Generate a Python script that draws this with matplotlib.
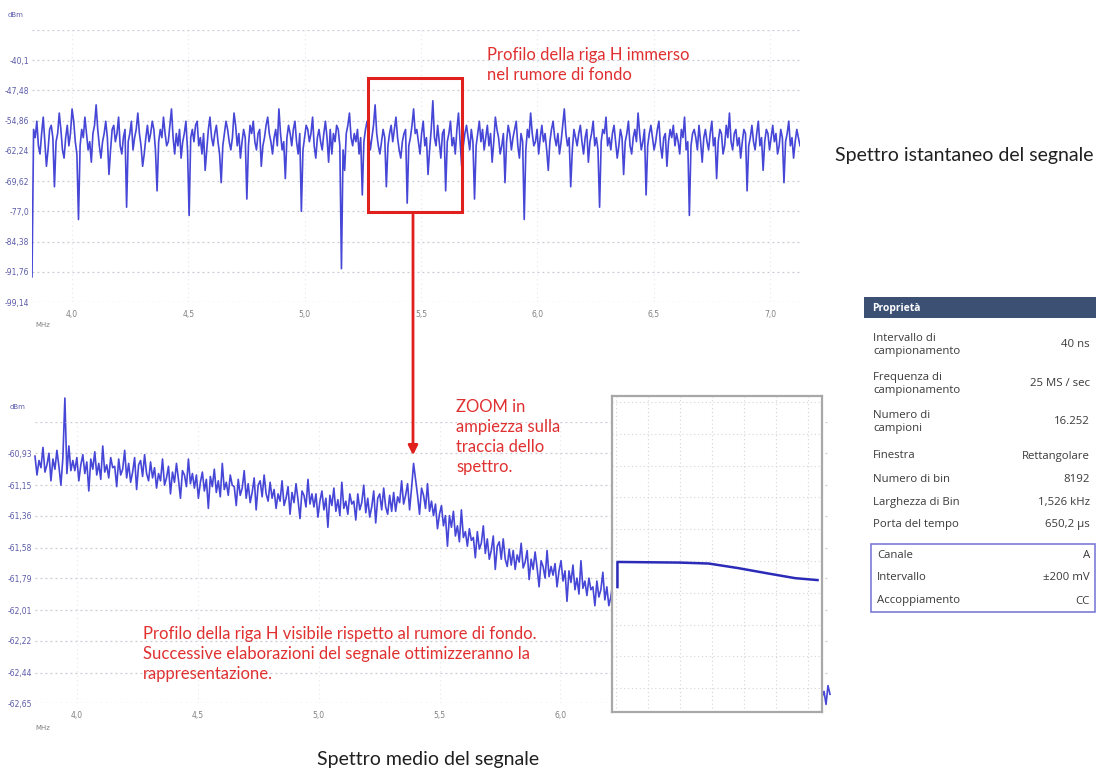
import numpy as np
import matplotlib
matplotlib.use('Agg')
import matplotlib.pyplot as plt
from matplotlib.patches import Rectangle, FancyArrowPatch

# ---------------- data ----------------
top_freq_range = (3.828, 7.128)   # MHz
top_values = [
    -93, -57, -59, -55, -61, -63, -58, -54, -60, -66, -62, -57, -56, -59, -71, -60, -58, -53, -57, -62,
    -64, -59, -56, -61, -58, -52, -55, -60, -63, -79, -61, -57, -59, -54, -58, -62, -60, -65, -58, -56,
    -51, -57, -61, -64, -60, -58, -55, -59, -68, -62, -57, -56, -60, -58, -54, -61, -63, -59, -57, -76,
    -60, -58, -55, -62, -59, -57, -53, -58, -61, -66, -63, -59, -56, -60, -58, -55, -57, -62, -72, -60,
    -57, -59, -54, -58, -61, -60, -56, -52, -59, -63, -58, -61, -57, -64, -60, -58, -55, -62, -78, -59,
    -57, -60, -56, -55, -61, -59, -63, -58, -67, -62, -57, -54, -59, -61, -58, -56, -60, -63, -70, -61,
    -58, -55, -57, -60, -62, -59, -53, -56, -61, -58, -64, -60, -57, -59, -74, -61, -56, -58, -55, -60,
    -62, -58, -57, -66, -61, -59, -56, -54, -58, -60, -63, -59, -57, -61, -52, -58, -62, -60, -69, -59,
    -56, -58, -61, -57, -55, -60, -63, -58, -77, -62, -59, -56, -57, -60, -58, -54, -61, -64, -59, -57,
    -60, -62, -58, -55, -59, -65, -57, -63, -58, -60, -56, -57, -61, -91, -62, -67, -58, -56, -53, -59,
    -61, -58, -60, -57, -63, -59, -73, -60, -57, -55, -58, -62, -59, -56, -51, -58, -61, -63, -60, -57,
    -59, -71, -61, -58, -56, -60, -57, -54, -59, -62, -64, -60, -58, -57, -75, -61, -59, -56, -52, -58,
    -57, -60, -63, -58, -55, -61, -59, -68, -62, -57, -50, -59, -61, -56, -60, -64, -58, -57, -72, -60,
    -58, -55, -61, -59, -63, -57, -53, -60, -66, -61, -58, -56, -59, -62, -57, -60, -74, -61, -58, -55,
    -60, -57, -62, -59, -56, -61, -58, -65, -60, -54, -57, -59, -63, -61, -58, -70, -60, -56, -58, -62,
    -59, -57, -55, -61, -64, -58, -60, -79, -62, -57, -59, -53, -58, -61, -60, -57, -63, -59, -56, -60,
    -58, -62, -67, -60, -57, -55, -59, -61, -58, -63, -60, -56, -52, -58, -61, -59, -71, -62, -57, -59,
    -61, -58, -56, -60, -63, -59, -57, -65, -60, -58, -55, -61, -59, -62, -76, -60, -57, -58, -54, -61,
    -59, -62, -58, -56, -60, -64, -61, -57, -59, -68, -60, -58, -55, -61, -63, -59, -57, -60, -53, -58,
    -62, -60, -57, -73, -61, -58, -56, -59, -62, -60, -57, -55, -61, -64, -59, -58, -66, -60, -57, -59,
    -56, -61, -58, -60, -63, -57, -59, -54, -62, -60, -78, -61, -58, -57, -59, -62, -56, -60, -65, -59,
    -57, -60, -62, -58, -55, -61, -59, -69, -60, -57, -58, -63, -61, -56, -59, -53, -60, -62, -58, -57,
    -61, -59, -64, -60, -57, -58, -72, -61, -59, -56, -60, -62, -58, -55, -61, -59, -67, -60, -57, -58,
    -62, -59, -56, -60, -58, -63, -61, -57, -59, -70, -60, -58, -55, -61, -59, -64, -60, -57, -59, -61,
]
top_yticks = [-40.1, -47.48, -54.86, -62.24, -69.62, -77.0, -84.38, -91.76, -99.14]
top_ylabels = ['-40,1', '-47,48', '-54,86', '-62,24', '-69,62', '-77,0', '-84,38', '-91,76', '-99,14']
top_ylim = (-99.14, -32.72)
top_xticks = [4.0, 4.5, 5.0, 5.5, 6.0, 6.5, 7.0]
top_xlabels = ['4,0', '4,5', '5,0', '5,5', '6,0', '6,5', '7,0']

bot_freq_range = (3.826, 7.116)   # MHz
bot_values = [
    -60.95, -61.08, -60.98, -61.03, -60.89, -61.06, -61.01, -60.93, -61.12, -60.97, -61.04, -60.91, -61.02, -61.15, -60.96, -60.55, -61.07, -60.88, -61.05, -60.98,
    -61.05, -60.96, -61.12, -61.01, -60.94, -61.07, -60.99, -61.19, -60.97, -61.04, -60.92, -61.08, -61.00, -61.11, -60.88, -61.06, -61.01, -61.10, -60.96, -61.03,
    -61.02, -61.16, -60.97, -61.08, -61.04, -60.91, -61.10, -61.00, -61.13, -61.06, -60.96, -61.18, -61.01, -60.98, -61.09, -60.94, -61.07, -61.12, -60.99, -61.10,
    -61.03, -61.17, -61.07, -61.12, -60.97, -61.15, -61.10, -61.02, -61.21, -61.06, -61.13, -61.00, -61.11, -61.24, -61.05, -61.08, -61.16, -60.97, -61.14, -61.07,
    -61.17, -61.08, -61.24, -61.13, -61.06, -61.19, -61.11, -61.31, -61.09, -61.16, -61.04, -61.20, -61.12, -61.23, -61.00, -61.18, -61.13, -61.22, -61.08, -61.15,
    -61.16, -61.29, -61.11, -61.22, -61.17, -61.05, -61.24, -61.14, -61.27, -61.20, -61.10, -61.32, -61.15, -61.12, -61.23, -61.08, -61.21, -61.26, -61.13, -61.24,
    -61.18, -61.31, -61.21, -61.26, -61.12, -61.29, -61.24, -61.16, -61.35, -61.20, -61.27, -61.14, -61.25, -61.38, -61.19, -61.22, -61.30, -61.11, -61.28, -61.21,
    -61.30, -61.21, -61.37, -61.26, -61.19, -61.32, -61.24, -61.44, -61.22, -61.29, -61.17, -61.33, -61.25, -61.36, -61.13, -61.31, -61.26, -61.35, -61.21, -61.28,
    -61.26, -61.39, -61.21, -61.32, -61.27, -61.15, -61.34, -61.24, -61.37, -61.30, -61.19, -61.41, -61.24, -61.21, -61.32, -61.17, -61.30, -61.35, -61.22, -61.33,
    -61.20, -61.33, -61.23, -61.27, -61.12, -61.28, -61.22, -61.14, -61.32, -61.17, -61.00, -61.11, -61.22, -61.35, -61.17, -61.22, -61.31, -61.14, -61.33, -61.26,
    -61.36, -61.28, -61.45, -61.35, -61.29, -61.43, -61.36, -61.57, -61.36, -61.44, -61.33, -61.50, -61.43, -61.54, -61.32, -61.51, -61.47, -61.57, -61.45, -61.53,
    -61.51, -61.65, -61.47, -61.59, -61.55, -61.43, -61.62, -61.52, -61.66, -61.60, -61.50, -61.73, -61.57, -61.54, -61.66, -61.52, -61.66, -61.71, -61.59, -61.70,
    -61.60, -61.73, -61.63, -61.68, -61.55, -61.72, -61.68, -61.60, -61.80, -61.66, -61.73, -61.61, -61.72, -61.85, -61.67, -61.71, -61.79, -61.60, -61.78, -61.71,
    -61.77, -61.69, -61.85, -61.74, -61.67, -61.81, -61.74, -61.95, -61.74, -61.82, -61.70, -61.87, -61.79, -61.90, -61.67, -61.86, -61.81, -61.91, -61.79, -61.87,
    -61.85, -61.98, -61.81, -61.92, -61.87, -61.75, -61.94, -61.85, -61.98, -61.92, -61.82, -62.05, -61.90, -61.88, -61.99, -61.85, -61.98, -62.03, -61.90, -62.01,
    -61.91, -62.05, -61.95, -62.00, -61.87, -62.03, -61.99, -61.91, -62.11, -61.97, -62.05, -61.93, -62.04, -62.17, -61.99, -62.03, -62.11, -61.92, -62.09, -62.03,
    -62.09, -62.00, -62.17, -62.06, -61.99, -62.13, -62.06, -62.27, -62.06, -62.14, -62.02, -62.19, -62.11, -62.22, -61.99, -62.18, -62.13, -62.23, -62.10, -62.16,
    -62.14, -62.28, -62.10, -62.22, -62.18, -62.06, -62.26, -62.17, -62.31, -62.25, -62.15, -62.38, -62.22, -62.19, -62.31, -62.17, -62.31, -62.37, -62.24, -62.36,
    -62.24, -62.38, -62.28, -62.34, -62.21, -62.39, -62.35, -62.28, -62.48, -62.34, -62.42, -62.30, -62.42, -62.56, -62.38, -62.42, -62.51, -62.33, -62.51, -62.45,
    -62.46, -62.38, -62.55, -62.45, -62.38, -62.52, -62.45, -62.66, -62.46, -62.54, -62.43, -62.60, -62.53, -62.65, -62.42, -62.61, -62.57, -62.66, -62.53, -62.59,
]
bot_yticks = [-60.93, -61.15, -61.36, -61.58, -61.79, -62.01, -62.22, -62.44, -62.65]
bot_ylabels = ['-60,93', '-61,15', '-61,36', '-61,58', '-61,79', '-62,01', '-62,22', '-62,44', '-62,65']
bot_ylim = (-62.65, -60.715)
bot_xticks = [4.0, 4.5, 5.0, 5.5, 6.0]
bot_xlabels = ['4,0', '4,5', '5,0', '5,5', '6,0']

inset_x = [0.05, 0.05, 1.0, 2.0, 2.9, 3.8, 4.8, 5.6, 6.3]
inset_y = [3.18, 3.97, 3.96, 3.95, 3.92, 3.78, 3.60, 3.46, 3.40]

prop_rows = [
    ('Intervallo di\ncampionamento', '40 ns'),
    ('Frequenza di\ncampionamento', '25 MS / sec'),
    ('Numero di\ncampioni', '16.252'),
    ('Finestra', 'Rettangolare'),
    ('Numero di bin', '8192'),
    ('Larghezza di Bin', '1,526 kHz'),
    ('Porta del tempo', '650,2 µs'),
]
channel_rows = [('Canale', 'A'), ('Intervallo', '±200 mV'), ('Accoppiamento', 'CC')]

# ---------------- figure ----------------
W, H = 1103, 773
fig = plt.figure(figsize=(W / 100, H / 100), dpi=100)
fig.patch.set_facecolor('white')

def fx(px):
    return px / W

def fy(py):
    return 1 - py / H

def ax_at(l, t, r, b, **kw):
    return fig.add_axes([l / W, 1 - b / H, (r - l) / W, (b - t) / H], **kw)

TRACE = '#2626d0'
YLAB = '#5b5ba8'
XLAB = '#808080'
GRID = '#c9c9d6'
RED = '#e0201c'
ANN = '#e03030'

def style_spectrum(ax, xlim, ylim, yticks, ylabels, xticks, xlabels):
    ax.set_xlim(*xlim)
    ax.set_ylim(*ylim)
    for s in ax.spines.values():
        s.set_visible(False)
    ax.set_yticks(yticks)
    ax.set_yticklabels(ylabels, fontsize=5.5, color=YLAB, family='DejaVu Sans')
    ax.set_xticks(xticks)
    ax.set_xticklabels(xlabels, fontsize=5.5, color=XLAB, family='DejaVu Sans')
    ax.tick_params(length=0, pad=2)
    ax.tick_params(axis='x', pad=6)
    ax.grid(True, axis='y', color=GRID, linestyle=(0, (1.5, 2.5)), linewidth=0.9)
    ax.grid(True, axis='x', color='#e6e6ee', linestyle=(0, (1, 3)), linewidth=0.8)
    ax.axhline(ylim[1], color=GRID, linestyle=(0, (1.5, 2.5)), linewidth=0.9)
    ax.set_facecolor('none')

# top spectrum
ax1 = ax_at(32, 30, 800, 302)
top_freq = np.linspace(top_freq_range[0], top_freq_range[1], len(top_values))
ax1.plot(top_freq, top_values, color=TRACE, linewidth=1.2, alpha=0.85)
style_spectrum(ax1, top_freq_range, top_ylim, top_yticks, top_ylabels, top_xticks, top_xlabels)
ax1.add_patch(Rectangle((5.272, -77.17), 0.404, 32.73, fill=False, edgecolor=RED, linewidth=2.2, zorder=5))

# bottom spectrum
ax2 = ax_at(35, 422, 830, 703)
bot_freq = np.linspace(bot_freq_range[0], bot_freq_range[1], len(bot_values))
ax2.plot(bot_freq, bot_values, color=TRACE, linewidth=1.2, alpha=0.85, clip_on=False)
style_spectrum(ax2, bot_freq_range, bot_ylim, bot_yticks, bot_ylabels, bot_xticks, bot_xlabels)

# inset
ax3 = ax_at(612, 396, 822, 712)
ax3.set_facecolor('white')
ax3.set_xlim(-0.12, 6.44)
ax3.set_ylim(-0.75, 9.19)
ax3.set_xticks(range(0, 7))
ax3.set_yticks(range(0, 10))
ax3.tick_params(length=0, labelbottom=False, labelleft=False)
ax3.grid(True, color='#d4d4dc', linestyle=(0, (1, 2.5)), linewidth=0.8)
for s in ax3.spines.values():
    s.set_color('#a8a8a8')
    s.set_linewidth(1.6)
ax3.plot(inset_x, inset_y, color='#2b2bb8', linewidth=1.8)

# axis unit labels
for x, y, t in [(8, 15, 'dBm'), (35, 325, 'MHz'), (10, 407, 'dBm'), (35, 728, 'MHz')]:
    fig.text(fx(x), fy(y), t, fontsize=5, color=YLAB if t == 'dBm' else XLAB, va='center', ha='left')

# red arrow
fig.add_artist(FancyArrowPatch((fx(413), fy(212)), (fx(413), fy(458)), transform=fig.transFigure,
                               arrowstyle='-|>', mutation_scale=14, color=RED, linewidth=2.0))

# annotations
afont = dict(family=['Lato', 'DejaVu Sans'], color=ANN, fontsize=12, ha='left', va='top', linespacing=1.3)
fig.text(fx(487), fy(47), 'Profilo della riga H immerso\nnel rumore di fondo', **afont)
fig.text(fx(456), fy(399), 'ZOOM in\nampiezza sulla\ntraccia dello\nspettro.', **afont)
fig.text(fx(143), fy(626), 'Profilo della riga H visibile rispetto al rumore di fondo.\n'
         'Successive elaborazioni del segnale ottimizzeranno la\nrappresentazione.', **afont)

bfont = dict(family=['Lato', 'DejaVu Sans'], color='#202020', fontsize=14)
fig.text(fx(835), fy(155), 'Spettro istantaneo del segnale', ha='left', va='center', **bfont)
fig.text(fx(428), fy(760), 'Spettro medio del segnale', ha='center', va='center', **bfont)

# properties panel
fig.add_artist(Rectangle((fx(864), fy(318)), (1096 - 864) / W, 21 / H, transform=fig.transFigure,
                         facecolor='#3c5074', edgecolor='none'))
fig.text(fx(872), fy(308), 'Proprietà', color='white', fontsize=7.5, fontweight='bold',
         family=['Open Sans', 'DejaVu Sans'], va='center', ha='left')
pfont = dict(family=['Open Sans', 'DejaVu Sans'], color='#3a3a3a', fontsize=8.2, va='center', linespacing=1.2)
prop_y = [345, 384, 422, 456, 480, 502, 524]
for (lab, val), y in zip(prop_rows, prop_y):
    fig.text(fx(873), fy(y), lab, ha='left', **pfont)
    fig.text(fx(1090), fy(y), val, ha='right', **pfont)
fig.add_artist(Rectangle((fx(871), fy(612)), (1095 - 871) / W, (612 - 544) / H, transform=fig.transFigure,
                         facecolor='none', edgecolor='#7b7bd8', linewidth=1.2))
for (lab, val), y in zip(channel_rows, [556, 578, 601]):
    fig.text(fx(877), fy(y), lab, ha='left', **pfont)
    fig.text(fx(1090), fy(y), val, ha='right', **pfont)

fig.savefig('out.png', dpi=100)
